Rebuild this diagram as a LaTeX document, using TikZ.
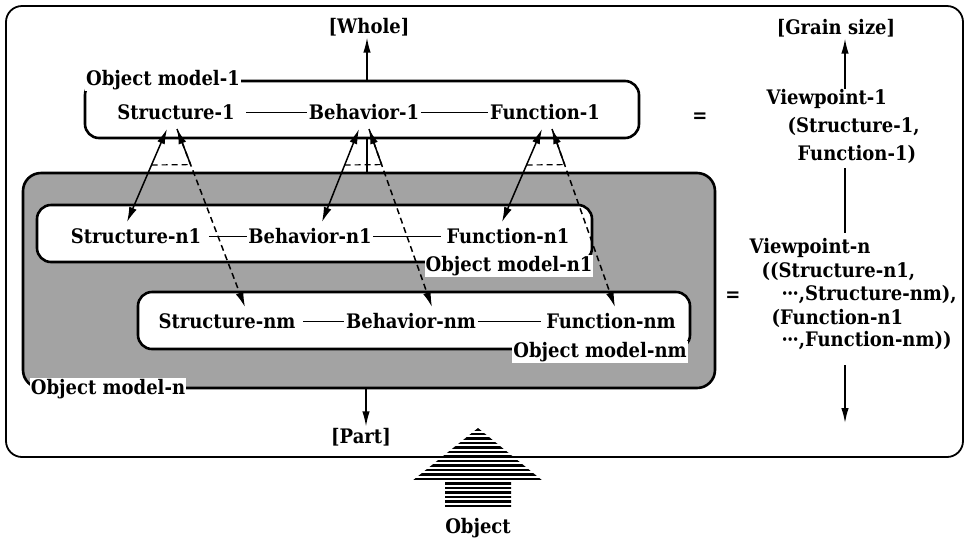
\documentclass[tikz,border=0pt]{standalone}
\usepackage{fontspec}
\setmainfont{DejaVu Serif}[FakeStretch=0.9]
\usetikzlibrary{arrows.meta,calc}
\definecolor{shade}{gray}{0.64}
% middle dots, slightly tightened
\newcommand\mdots{·\kern-0.8pt·\kern-0.8pt·}

\begin{document}
\begin{tikzpicture}[x=1pt,y=-1pt,
  lbl/.style={font=\bfseries\fontsize{20}{22}\selectfont, inner sep=1.5pt},
  elem/.style={lbl},
  tag/.style={lbl, fill=white, inner sep=1pt},
  modelbox/.style={line width=2.6pt, rounded corners=14pt},
  link/.style={line width=0.9pt},
  axis/.style={line width=1.5pt, -{Latex[length=15pt,width=7.5pt]}},
  dtip/.style={line width=1.5pt, {Latex[length=15pt,width=8pt]}-{Latex[length=15pt,width=8pt]}},
  dashpat/.style={dash pattern=on 6pt off 4pt},
]
\useasboundingbox (0,0) rectangle (967,542);

% outer frame
\draw[line width=1.8pt, rounded corners=16pt] (6,6) rectangle (963,457);

% object model-n (shaded) with its two sub-models
\draw[modelbox, fill=shade, rounded corners=18pt] (23,173) rectangle (715,388);
\draw[modelbox, fill=white] (37,205) rectangle (592,262);
\draw[modelbox, fill=white] (138,292) rectangle (690,349);
% object model-1
\draw[modelbox] (85,81) rectangle (639,138);

% model captions
\node[tag] (tm1)  at (163,80)  {Object model-1};
\node[tag] (tmn1) at (509,266) {Object model-n1};
\node[tag] (tmnm) at (600,352) {Object model-nm};
\node[tag] (tmn)  at (108,389) {Object model-n};

% elements of each model
\node[elem] (s1)  at (176,112) {Structure-1};
\node[elem] (b1)  at (364,112) {Behavior-1};
\node[elem] (f1)  at (545,112) {Function-1};
\node[elem] (sn1) at (136,236) {Structure-n1};
\node[elem] (bn1) at (310,236) {Behavior-n1};
\node[elem] (fn1) at (508,236) {Function-n1};
\node[elem] (snm) at (227,321) {Structure-nm};
\node[elem] (bnm) at (411,321) {Behavior-nm};
\node[elem] (fnm) at (611,321) {Function-nm};

\draw[link, shorten <=10pt] (s1) -- (b1);
\draw[link] (b1) -- (f1);
\draw[link, shorten <=6pt] (sn1) -- (bn1);
\draw[link, shorten >=4pt] (bn1) -- (fn1);
\draw[link, shorten <=6pt] (snm) -- (bnm);
\draw[link, shorten >=4pt] (bnm) -- (fnm);

% whole / part axis
\node[lbl] (whole) at (369,27) {[Whole]};
\node[lbl] (part)  at (361,437) {[Part]};
\coordinate (m1top) at (367,81);
\coordinate (m1bot) at (367,138);
\coordinate (mntop) at (367,173);
\coordinate (mnbot) at (366,388);
\draw[axis] (m1top) -- (m1top |- whole.south);
\draw[line width=1.2pt] (m1bot) -- (mntop);
\draw[axis] (mnbot) -- (mnbot |- part.north);

% decomposition links
\foreach \n/\ax/\lx/\rx in {s/172/127/245, b/364/322/432, f/547/502/615}{
  \coordinate (\n aL) at (\ax-5,129);
  \coordinate (\n aR) at (\ax+5,129);
  \coordinate (\n tL) at (\lx,222);
  \coordinate (\n tR) at (\rx,307);
  \draw[dtip] (\n aL) -- (\n tL);
  \draw[dtip, dashpat] (\n aR) -- (\n tR);
  \draw[line width=1.5pt] (\n aR) -- ($(\n aR)!0.2!(\n tR)$);
  \draw[line width=1.2pt, dashpat] ($(\n aL)!0.387!(\n tL)$) -- ($(\n aR)!0.2!(\n tR)$);
}

% equivalences
\node[lbl] (eq1) at (700,118) {=};
\node[lbl] (eq2) at (733,297) {=};

% viewpoints and grain size
\node[lbl] (grain) at (836,28) {[Grain size]};
\node[lbl, anchor=west] (vp1)  at (765,99)  {Viewpoint-1};
\node[lbl, anchor=west] (vp1a) at (786,127) {(Structure-1,};
\node[lbl, anchor=west] (vp1b) at (796,154) {Function-1)};
\node[lbl, anchor=west] (vpn)  at (748,248) {Viewpoint-n};
\node[lbl, anchor=west] (vpna) at (760,272) {((Structure-n1,};
\node[lbl, anchor=west] (vpnb) at (780,295) {\mdots,Structure-nm),};
\node[lbl, anchor=west] (vpnc) at (770,318) {(Function-n1};
\node[lbl, anchor=west] (vpnd) at (780,341) {\mdots,Function-nm))};

\coordinate (g1) at (845,89);
\coordinate (g2) at (845,168);
\coordinate (g3) at (845,233);
\coordinate (g4) at (845,365);
\coordinate (g5) at (845,423);
\draw[axis] (g1) -- (g1 |- grain.south);
\draw[line width=1.5pt] (g2) -- (g3);
\draw[axis] (g4) -- (g5);

% striped "Object" arrow
\begin{scope}
  \clip (478,428) -- (543,481) -- (511,481) -- (511,508) -- (445,508)
        -- (445,481) -- (412,481) -- cycle;
  \foreach \y in {429.5,434,...,508}
    \draw[line width=2.8pt] (405,\y) -- (550,\y);
\end{scope}
\node[lbl] (obj) at (478,528) {Object};
\end{tikzpicture}
\end{document}
